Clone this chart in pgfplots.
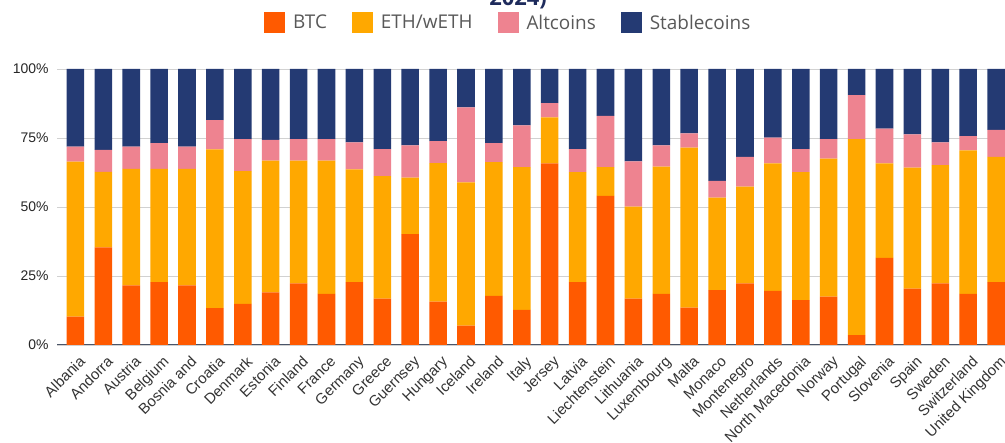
\documentclass[border=0pt]{standalone}
\usepackage{pgfplots}
\pgfplotsset{compat=1.18}
\usepackage{pgfplotstable}
\usepackage{fontspec}
\setmainfont{Liberation Sans}
\newfontfamily\legfont{Open Sans}
\definecolor{btc}{HTML}{FF5A00}
\definecolor{eth}{HTML}{FFA800}
\definecolor{alt}{HTML}{EE8390}
\definecolor{stab}{HTML}{243A73}
\definecolor{titlec}{HTML}{1E2B5C}
\definecolor{axisc}{HTML}{4A5468}

\pgfplotstableread{
idx btc eth alt stab
0 10.3 56.1 5.5 28.1
1 35.4 27.3 8.0 29.3
2 21.6 42.2 8.1 28.1
3 22.8 41.0 9.3 26.9
4 21.6 42.2 8.1 28.1
5 13.4 57.5 10.6 18.5
6 14.9 48.1 11.6 25.4
7 19.1 47.7 7.5 25.7
8 22.3 44.5 7.8 25.4
9 18.5 48.3 7.8 25.4
10 22.8 40.8 9.8 26.6
11 16.8 44.4 9.8 29.0
12 40.2 20.4 11.7 27.7
13 15.7 50.2 8.0 26.1
14 7.0 51.9 27.2 13.9
15 17.8 48.5 6.8 26.9
16 12.7 51.7 15.2 20.4
17 65.8 16.7 5.1 12.4
18 22.8 39.8 8.4 29.0
19 54.0 10.4 18.6 17.0
20 16.8 33.3 16.4 33.5
21 18.5 46.1 7.7 27.7
22 13.5 58.0 5.2 23.3
23 19.9 33.5 6.1 40.5
24 22.3 35.1 10.8 31.8
25 19.6 46.2 9.3 24.9
26 16.3 46.3 8.4 29.0
27 17.5 50.0 7.1 25.4
28 3.6 71.0 15.9 9.5
29 31.6 34.2 12.6 21.6
30 20.4 43.9 12.0 23.7
31 22.3 42.9 8.2 26.6
32 18.5 52.0 5.2 24.3
33 22.8 45.4 9.7 22.1
}\data

\pgfplotsset{legsq/.style={legend image code/.code={\path[##1,draw=none] (0bp,-10.5bp) rectangle (21bp,10.5bp);}}}

\begin{document}
\begin{tikzpicture}[x=1bp,y=1bp]
\begin{axis}[
  at={(57bp,98bp)}, anchor=south west,
  scale only axis, width=948bp, height=276bp,
  ybar stacked, bar width=0.63,
  xmin=-0.66, xmax=33.32, ymin=0, ymax=100,
  xtick={0,...,33},
  xticklabels={Albania, Andorra, Austria, Belgium, Bosnia and, Croatia, Denmark, Estonia, Finland, France, Germany, Greece, Guernsey, Hungary, Iceland, Ireland, Italy, Jersey, Latvia, Liechtenstein, Lithuania, Luxembourg, Malta, Monaco, Montenegro, Netherlands, North Macedonia, Norway, Portugal, Slovenia, Spain, Sweden, Switzerland, United Kingdom},
  xticklabel style={rotate=45, anchor=north east, font=\fontsize{15}{15}\selectfont, text=black!80, inner sep=1bp, yshift=-8bp, xshift=-4bp},
  ytick={0,25,50,75,100}, yticklabels={0\%,25\%,50\%,75\%,100\%},
  yticklabel style={font=\fontsize{14}{14}\selectfont, text=black!85, xshift=-5bp},
  major tick length=0pt,
  ymajorgrids, grid style={black!18, line width=0.8pt},
  extra y ticks={0}, extra y tick labels={},
  extra y tick style={grid style={draw=axisc, line width=1pt}},
  axis line style={draw=none},
  legend style={at={(0.476,1.167)}, anchor=center, draw=none, fill=none,
    legend columns=4, font=\legfont\fontsize{19}{19}\selectfont, text=black!65,
    /tikz/every odd column/.append style={column sep=6bp},
    /tikz/every even column/.append style={column sep=23bp}},
]
\addplot[fill=btc, draw=none, legsq] table[x=idx,y=btc]{\data};
\addplot[fill=eth, draw=none, legsq] table[x=idx,y=eth]{\data};
\addplot[fill=alt, draw=none, legsq] table[x=idx,y=alt]{\data};
\addplot[fill=stab, draw=none, legsq] table[x=idx,y=stab]{\data};
\legend{BTC, ETH/wETH, Altcoins, Stablecoins}
\end{axis}
\node[anchor=base, font=\legfont\bfseries\fontsize{22}{22}\selectfont, text=titlec] at (518,437) {2024)};
\pgfresetboundingbox
\useasboundingbox (0,0) rectangle (1005,443);
\end{tikzpicture}
\end{document}
